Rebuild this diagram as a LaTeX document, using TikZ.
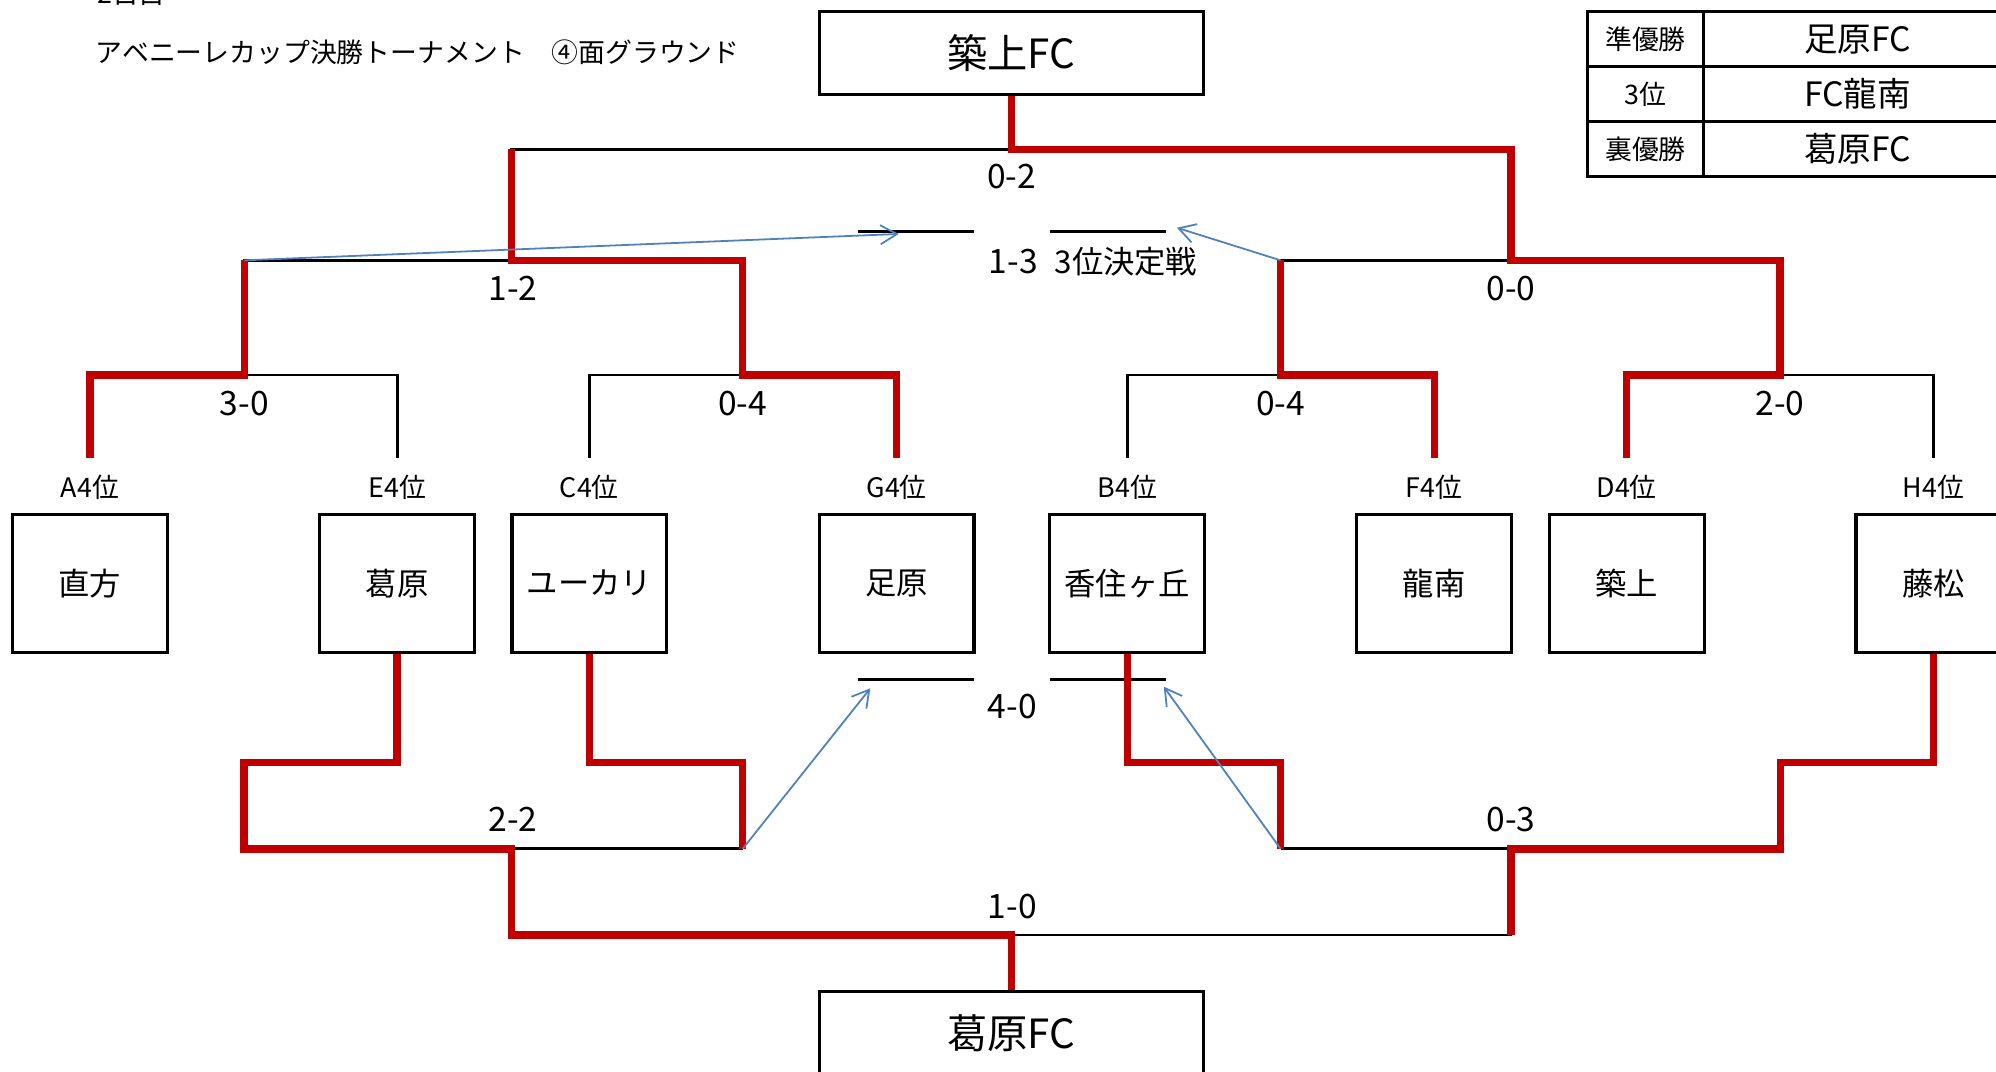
\documentclass[tikz,border=0pt]{standalone}
\usepackage{fontspec}
\setmainfont{Noto Sans CJK JP}
\usetikzlibrary{positioning,arrows.meta}
\definecolor{winred}{RGB}{192,0,0}
\definecolor{passblue}{RGB}{79,129,189}
\newcommand{\fsize}[1]{\fontsize{#1}{#1}\selectfont}

\begin{document}
\begin{tikzpicture}[x=0.2mm,y=-0.2mm,
  bk/.style={black, line width=1.3pt},
  rd/.style={winred, line width=3.3pt},
  pass/.style={passblue, line width=0.8pt, -{Straight Barb[length=2.6mm,width=3mm]}},
  team/.style={draw, line width=1.4pt, minimum width=24.3mm, minimum height=21.7mm, inner sep=0pt, font=\fsize{14}},
  cup/.style={draw, line width=1.4pt, minimum width=60.4mm, minimum height=13mm, inner sep=0pt, font=\fsize{18}},
  seed/.style={inner sep=0pt, font=\fsize{12}},
  score/.style={inner sep=0pt, font=\fsize{15}},
  cell/.style={draw, line width=1.4pt, outer sep=0pt, minimum height=8.64mm, inner sep=0pt}]
\useasboundingbox (0,0) rectangle (1568,842);

% heading
\node[anchor=south west, inner sep=0pt, font=\fsize{12}] (day) at (76,5) {2日目};
\node[anchor=west, inner sep=0pt, font=\fsize{12}] (title) at (75,41) {アベニーレカップ決勝トーナメント　④面グラウンド};

% result table
\node[cell, minimum width=18.3mm, font=\fsize{12}] (rank2) at (1292.7,30.8) {準優勝};
\node[cell, minimum width=48.3mm, font=\fsize{15}, right=0pt of rank2] (rank2team) {足原FC};
\node[cell, minimum width=18.3mm, font=\fsize{12}, below=0pt of rank2] (rank3) {3位};
\node[cell, minimum width=48.3mm, font=\fsize{15}, right=0pt of rank3] (rank3team) {FC龍南};
\node[cell, minimum width=18.3mm, font=\fsize{12}, below=0pt of rank3] (rankura) {裏優勝};
\node[cell, minimum width=48.3mm, font=\fsize{15}, right=0pt of rankura] (rankurateam) {葛原FC};

% winners
\node[cup] (top) at (794.5,41.6) {築上FC};
\node[cup] (bottom) at (794.5,811.5) {葛原FC};

% teams
\node[team] (naokata) at (70.7,458.2) {直方};
\node[team] (kuzuhara) at (312,458.2) {葛原};
\node[team] (yukari) at (463,458.2) {ユーカリ};
\node[team] (ashihara) at (704.4,458.2) {足原};
\node[team] (kasumi) at (885.5,458.2) {香住ヶ丘};
\node[team] (ryunan) at (1126.7,458.2) {龍南};
\node[team] (chikujo) at (1277.9,458.2) {築上};
\node[team] (fujimatsu) at (1518.8,458.2) {藤松};

\node[seed] (sA) at (70.7,382.8) {A4位};
\node[seed] (sE) at (312,382.8) {E4位};
\node[seed] (sC) at (463,382.8) {C4位};
\node[seed] (sG) at (704.4,382.8) {G4位};
\node[seed] (sB) at (885.5,382.8) {B4位};
\node[seed] (sF) at (1126.7,382.8) {F4位};
\node[seed] (sD) at (1277.9,382.8) {D4位};
\node[seed] (sH) at (1518.8,382.8) {H4位};

% bracket points
\coordinate (tA) at ([yshift=8.6mm]naokata.north);
\coordinate (tE) at ([yshift=8.6mm]kuzuhara.north);
\coordinate (tC) at ([yshift=8.6mm]yukari.north);
\coordinate (tG) at ([yshift=8.6mm]ashihara.north);
\coordinate (tB) at ([yshift=8.6mm]kasumi.north);
\coordinate (tF) at ([yshift=8.6mm]ryunan.north);
\coordinate (tD) at ([yshift=8.6mm]chikujo.north);
\coordinate (tH) at ([yshift=8.6mm]fujimatsu.north);
\coordinate (ae) at (192,294.6);
\coordinate (cg) at (583.4,294.6);
\coordinate (bf) at (1006,294.6);
\coordinate (dh) at (1398.2,294.6);
\coordinate (semi1) at (402,204.5);
\coordinate (semi2) at (1187,204.5);
\coordinate (fin) at (794.7,117.3);
\coordinate (lE) at (191.7,599);
\coordinate (lC) at (583.4,599);
\coordinate (lB) at (1006,599);
\coordinate (lH) at (1398.5,599);
\coordinate (cons1) at (402,666.8);
\coordinate (cons2) at (1187,666.8);
\coordinate (consfin) at (794.7,734.5);

% 3rd place lines
\coordinate (p1) at (674.4,181.5);
\coordinate (p2) at (765,181.5);
\coordinate (p3) at (824.8,181.5);
\coordinate (p4) at (915.6,181.5);
\coordinate (q1) at (674.4,533.6);
\coordinate (q2) at (765,533.6);
\coordinate (q3) at (824.8,533.6);
\coordinate (q4) at (915.6,533.6);
\coordinate (t1) at (706,183.8);
\coordinate (t2) at (924.5,178.9);
\coordinate (t3) at (683.7,540.7);
\coordinate (t4) at (914.2,539.4);

% black lines
\draw[bk] (tA) |- (ae) -| (tE);
\draw[bk] (tC) |- (cg) -| (tG);
\draw[bk] (tB) |- (bf) -| (tF);
\draw[bk] (tD) |- (dh) -| (tH);
\draw[bk] (ae) |- (semi1) -| (cg);
\draw[bk] (bf) |- (semi2) -| (dh);
\draw[bk] (semi1) |- (fin) -| (semi2);
\draw[bk] (p1) -- (p2);
\draw[bk] (p3) -- (p4);
\draw[bk] (q1) -- (q2);
\draw[bk] (q3) -- (q4);
\draw[bk] (lE |- cons1) -- (lC |- cons1);
\draw[bk] (lB |- cons2) -- (lH |- cons2);
\draw[bk] (cons1) |- (consfin) -| (cons2);

% red lines
\draw[rd] (tA) |- (ae) -- (ae |- semi1);
\draw[rd] (tG) |- (cg) |- (semi1) -- (semi1 |- fin);
\draw[rd] (tF) |- (bf) -- (bf |- semi2);
\draw[rd] (tD) |- (dh) |- (semi2) |- (fin) -- (fin |- top.south);
\draw[rd] (kuzuhara.south) |- (lE) |- (cons1) |- (consfin) -- (consfin |- bottom.north);
\draw[rd] (yukari.south) |- (lC) -- (lC |- cons1);
\draw[rd] (kasumi.south) |- (lB) -- (lB |- cons2);
\draw[rd] (fujimatsu.south) |- (lH) |- (cons2) -- (cons2 |- consfin);

% losers to 3rd place
\draw[pass] (ae |- semi1) -- (t1);
\draw[pass] (bf |- semi2) -- (t2);
\draw[pass] (lC |- cons1) -- (t3);
\draw[pass] (lB |- cons2) -- (t4);

% scores
\node[score] (s02) at (794.7,138.8) {0-2};
\node[score] (s13) at (796,205.6) {1-3};
\node[score, font=\fsize{14}] (third) at (884.5,205.6) {3位決定戦};
\node[score] (s12) at (403,226.5) {1-2};
\node[score] (s00) at (1187,226.5) {0-0};
\node[score] (s30) at (192,316.8) {3-0};
\node[score] (s04a) at (583.4,316.8) {0-4};
\node[score] (s04b) at (1006,316.8) {0-4};
\node[score] (s20) at (1398.2,316.8) {2-0};
\node[score] (s40) at (795.2,555) {4-0};
\node[score] (s22) at (403,644) {2-2};
\node[score] (s03) at (1187,644) {0-3};
\node[score] (s10) at (795.2,712.2) {1-0};
\end{tikzpicture}
\end{document}
